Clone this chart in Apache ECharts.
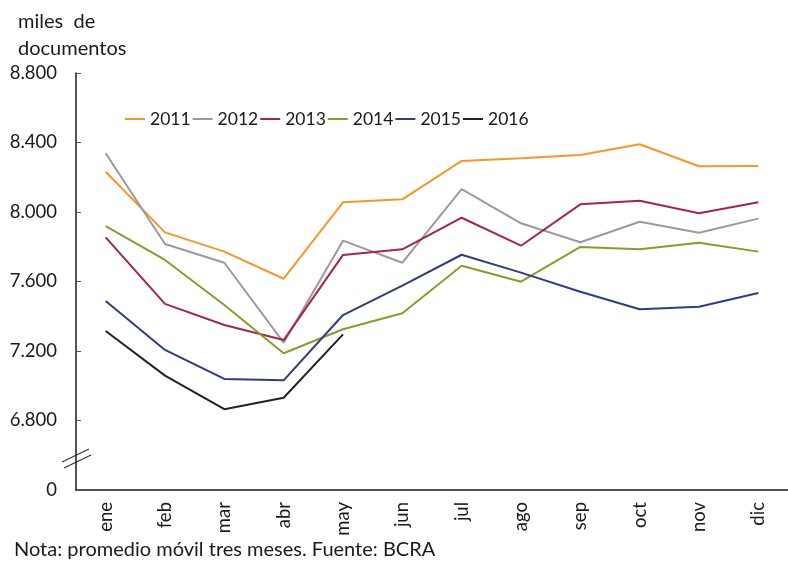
<!DOCTYPE html>
<html>
<head>
<meta charset="utf-8">
<script src="https://cdn.jsdelivr.net/npm/echarts@6/dist/echarts.min.js"></script>
<style>
  html, body { margin: 0; padding: 0; background: #fff; }
  #chart { width: 788px; height: 563px; }
</style>
</head>
<body>
<div id="chart"></div>
<script>
// meses
const months = ['ene', 'feb', 'mar', 'abr', 'may', 'jun', 'jul', 'ago', 'sep', 'oct', 'nov', 'dic']

// miles de documentos, promedio móvil tres meses
const y2011 = [8232, 7883, 7772, 7616, 8056, 8073, 8294, 8309, 8328, 8390, 8263, 8265]
const y2012 = [8338, 7816, 7708, 7248, 7835, 7708, 8131, 7935, 7826, 7944, 7881, 7962]
const y2013 = [7854, 7471, 7350, 7263, 7753, 7785, 7967, 7806, 8044, 8065, 7993, 8056]
const y2014 = [7919, 7724, 7465, 7187, 7325, 7417, 7691, 7599, 7799, 7785, 7823, 7772]
const y2015 = [7488, 7206, 7039, 7031, 7407, 7576, 7754, 7651, 7541, 7440, 7455, 7534]
const y2016 = [7315, 7058, 6865, 6931, 7296]

// eje cortado: el valor 6400 se rotula como 0
const yMin = 6400
const yMax = 8800
const yStep = 400

const FONT = 'Lato, "Open Sans", sans-serif'
const TEXT = '#1a1a1a'

const chart = echarts.init(document.getElementById('chart'))

const seriesDefs = [
  { name: '2011', data: y2011, color: '#f7962b' },
  { name: '2012', data: y2012, color: '#9a9a9a' },
  { name: '2013', data: y2013, color: '#a3264b' },
  { name: '2014', data: y2014, color: '#8c9a2b' },
  { name: '2015', data: y2015, color: '#2c3e7c' },
  { name: '2016', data: y2016, color: '#222222' }
]

const fmt = v => {
  if (v === yMin) return '0'
  const s = String(v)
  return s.slice(0, s.length - 3) + '.' + s.slice(-3)
}

const option = {
  animation: false,
  textStyle: { fontFamily: FONT },
  title: {
    text: 'miles  de\ndocumentos',
    left: 13,
    top: 3,
    textStyle: { fontFamily: FONT, fontSize: 20, fontWeight: 'normal', color: TEXT, lineHeight: 27 }
  },
  legend: {
    data: seriesDefs.map(s => s.name),
    left: 120,
    top: 105,
    icon: 'rect',
    itemWidth: 20,
    itemHeight: 2,
    itemGap: 2,
    textStyle: { fontFamily: FONT, fontSize: 17.5, color: TEXT }
  },
  grid: { left: 76, right: -10, top: 73, bottom: 73 },
  xAxis: {
    type: 'category',
    data: months,
    boundaryGap: true,
    axisLine: { lineStyle: { color: '#1a1a1a', width: 1.5 } },
    axisTick: { inside: true, length: 5, lineStyle: { color: '#555' } },
    axisLabel: { rotate: 90, margin: 12, fontSize: 18.5, color: TEXT, fontFamily: FONT }
  },
  yAxis: {
    type: 'value',
    min: yMin,
    max: yMax,
    interval: yStep,
    splitLine: { show: false },
    axisLine: { show: true, lineStyle: { color: '#1a1a1a', width: 1.5 } },
    axisTick: { show: true, inside: true, length: 5, lineStyle: { color: '#555' } },
    axisLabel: { formatter: fmt, margin: 19, fontSize: 18.5, color: TEXT, fontFamily: FONT }
  },
  series: seriesDefs.map(s => ({
    name: s.name,
    type: 'line',
    data: s.data,
    symbol: 'none',
    itemStyle: { color: s.color },
    lineStyle: { color: s.color, width: 2 }
  })),
  graphic: [
    { type: 'line', shape: { x1: 62, y1: 462, x2: 89, y2: 449 }, style: { stroke: '#333', lineWidth: 1.2 } },
    { type: 'line', shape: { x1: 64, y1: 468, x2: 91, y2: 455 }, style: { stroke: '#333', lineWidth: 1.2 } },
    {
      type: 'text',
      left: 14,
      top: 540,
      style: { text: 'Nota: promedio móvil tres meses. Fuente: BCRA', fontFamily: FONT, fontSize: 20, fill: TEXT }
    }
  ]
}

chart.setOption(option)

window.addEventListener('resize', () => {
  chart.resize()
})
</script>
</body>
</html>
